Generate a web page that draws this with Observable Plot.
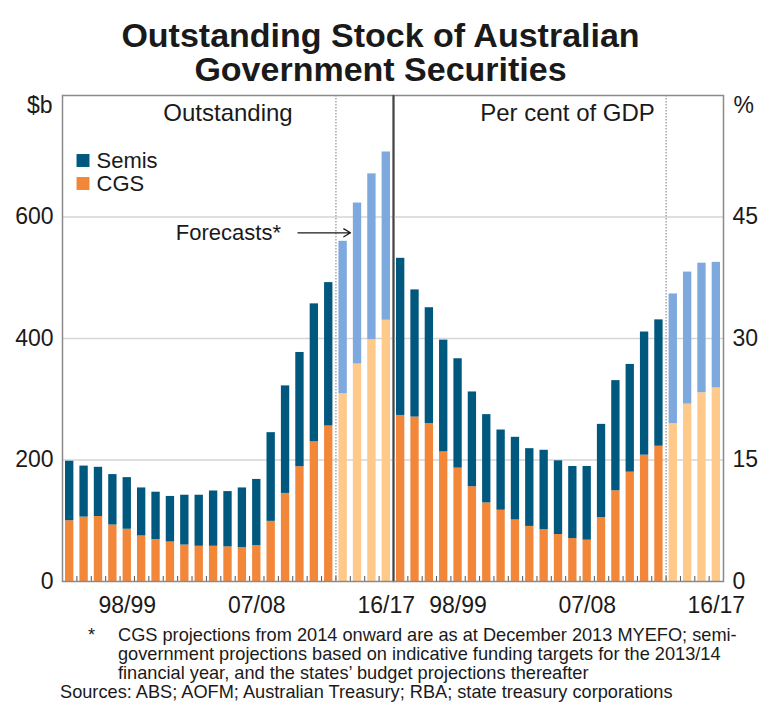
<!DOCTYPE html>
<html><head><meta charset="utf-8">
<script src="https://cdn.jsdelivr.net/npm/d3@7"></script>
<script src="https://cdn.jsdelivr.net/npm/@observablehq/plot@0.6"></script>
<style>
body{margin:0;background:#fff;}
#wrap{position:relative;width:761px;height:709px;overflow:hidden;font-family:"Liberation Sans",Arial,Helvetica,sans-serif;color:#1a1a1a;background:#fff;}
.title{position:absolute;left:0;width:761px;text-align:center;font-weight:bold;font-size:34px;line-height:32px;}
#left{position:absolute;left:0;top:88px;}
#right{position:absolute;left:386px;top:88px;}
.note{position:absolute;font-size:18.2px;line-height:19px;white-space:nowrap;}
</style></head>
<body><div id="wrap">
<div class="title" style="top:19px;">Outstanding Stock of Australian</div>
<div class="title" style="top:53px;">Government Securities</div>
<div id="left"></div><div id="right"></div>
<div class="note" style="left:88px;top:626px;">*</div>
<div class="note" style="left:118px;top:626px;">CGS projections from 2014 onward are as at December 2013 MYEFO; semi-<br>government projections based on indicative funding targets for the 2013/14<br>financial year, and the states’ budget projections thereafter</div>
<div class="note" style="left:60px;top:683px;">Sources: ABS; AOFM; Australian Treasury; RBA; state treasury corporations</div>
</div>
<script>
const years = ["94/95","95/96","96/97","97/98","98/99","99/00","00/01","01/02","02/03","03/04","04/05","05/06","06/07","07/08","08/09","09/10","10/11","11/12","12/13","13/14","14/15","15/16","16/17"];
const firstForecast = "13/14";
const xTickLabels = ["98/99","07/08","16/17"];
const cgsBillion   = [100,106,107,93,86,75,69,65,60,58,58,57,56,59,99,145,189,230,256,309,358,398,430];
const semisBillion = [98,84,81,83,85,79,78,75,82,84,91,91,98,109,146,177,188,227,236,251,265,273,277];
const cgsPct   = [20.5,20.3,19.5,16.0,14.0,11.7,9.7,8.8,7.6,6.8,6.4,5.8,5.3,5.1,7.9,11.2,13.5,15.6,16.7,19.5,21.9,23.3,23.9];
const semisPct = [19.4,15.7,14.3,13.8,13.5,11.7,10.9,9.9,10.2,9.6,9.8,9.1,8.9,9.1,11.5,13.6,13.3,15.2,15.6,16.0,16.3,16.0,15.5];
const billionTicks = [0,200,400,600];
const pctTicks = [0,15,30,45];
const seriesNames = ["Semis","CGS"];

const colorDomain = ["CGS","Semis","CGS forecast","Semis forecast"];
const colorRange = ["#f2873a","#00587f","#ffc98a","#7da9df"];
const FONT = "'Liberation Sans', Arial, Helvetica, sans-serif";
const fcIndex = years.indexOf(firstForecast);
const PAD_IN = 0.42, PAD_OUT = 0.21;

function rows(cgs, semis) {
  return years.flatMap((y, i) => {
    const fc = i >= fcIndex ? " forecast" : "";
    return [
      {year: y, series: "CGS", key: "CGS" + fc, value: cgs[i]},
      {year: y, series: "Semis", key: "Semis" + fc, value: semis[i]}
    ];
  });
}

function panel(o) {
  const H = 532, mt = 7, mb = 39;
  const innerH = H - mt - mb;
  const step = (o.width - o.marginLeft - o.marginRight) / years.length;
  const after = step / 2;    // band centre -> boundary after it
  const before = -step / 2;  // band centre -> boundary before it
  const marks = [
    Plot.gridY(o.ticks.filter(d => d > 0), {stroke: "#d6d6d6", strokeOpacity: 1, strokeWidth: 1.5}),
    Plot.barY(rows(o.cgs, o.semis), {x: "year", y: "value", fill: "key"}),
    Plot.ruleX([years[fcIndex - 1]], {dx: after, stroke: "#9a9a9a", strokeWidth: 1.3, strokeDasharray: "1.5,1.5"}),
    Plot.ruleX(years.slice(0, -1), {dx: after, stroke: "#555", strokeWidth: 1, insetTop: innerH - 5}),
    Plot.frame({stroke: "#8a8a8a", strokeWidth: 1.5}),
    o.anchor === "left"
      ? Plot.ruleX([years[years.length - 1]], {dx: after, stroke: "#444", strokeWidth: 1.6})
      : Plot.ruleX([years[0]], {dx: before, stroke: "#444", strokeWidth: 1.6}),
    Plot.axisY({anchor: o.anchor, ticks: o.ticks, tickSize: 0, tickPadding: 9, fontSize: 23, label: null}),
    Plot.axisX({ticks: xTickLabels, tickSize: 0, tickPadding: 15, fontSize: 23, label: null}),
    Plot.text([o.title], {frameAnchor: "top", dx: o.titleDx, dy: 18, lineAnchor: "middle", fontSize: 24, fill: "#1a1a1a"}),
    Plot.text([o.unit], {frameAnchor: o.anchor === "left" ? "top-left" : "top-right", dx: o.anchor === "left" ? -10 : 10, dy: 10,
      lineAnchor: "middle", textAnchor: o.anchor === "left" ? "end" : "start", fontSize: 23, fill: "#1a1a1a"})
  ];
  if (o.extra) marks.push(...o.extra);
  return Plot.plot({
    width: o.width, height: H, marginLeft: o.marginLeft, marginRight: o.marginRight, marginTop: mt, marginBottom: mb,
    style: {fontFamily: FONT, background: "transparent", overflow: "visible", color: "#1a1a1a"},
    x: {type: "band", domain: years, paddingInner: PAD_IN, paddingOuter: PAD_OUT, round: false},
    y: {domain: o.domain},
    color: {domain: colorDomain, range: colorRange},
    marks
  });
}

function legendItem(label, color, dy) {
  return [
    Plot.dot([label], {frameAnchor: "top-left", dx: 20.5, dy, r: 7.3, symbol: "square", fill: color, stroke: null}),
    Plot.text([label], {frameAnchor: "top-left", dx: 34, dy, lineAnchor: "middle", textAnchor: "start", fontSize: 22, fill: "#1a1a1a"})
  ];
}

const annot = [{x1: "10/11", x2: "14/15", y: 574, label: "Forecasts*"}];

const left = panel({
  cgs: cgsBillion, semis: semisBillion, domain: [0, 800], ticks: billionTicks,
  width: 400, marginLeft: 62, marginRight: 7, anchor: "left", unit: "$b",
  title: "Outstanding", titleDx: 0,
  extra: [
    ...legendItem(seriesNames[0], colorRange[1], 65),
    ...legendItem(seriesNames[1], colorRange[0], 88),
    Plot.arrow(annot, {x1: "x1", x2: "x2", y1: "y", y2: "y", dx: -2, insetEnd: 5, headLength: 9, stroke: "#1a1a1a", strokeWidth: 1.3}),
    Plot.text(annot, {x: "x1", y: "y", text: "label", dx: -19, textAnchor: "end", fontSize: 22, fill: "#1a1a1a"})
  ]
});
const right = panel({
  cgs: cgsPct, semis: semisPct, domain: [0, 60], ticks: pctTicks,
  width: 375, marginLeft: 7, marginRight: 38, anchor: "right", unit: "%",
  title: "Per cent of GDP", titleDx: 9
});
document.getElementById("left").append(left);
document.getElementById("right").append(right);
</script>
</body></html>
